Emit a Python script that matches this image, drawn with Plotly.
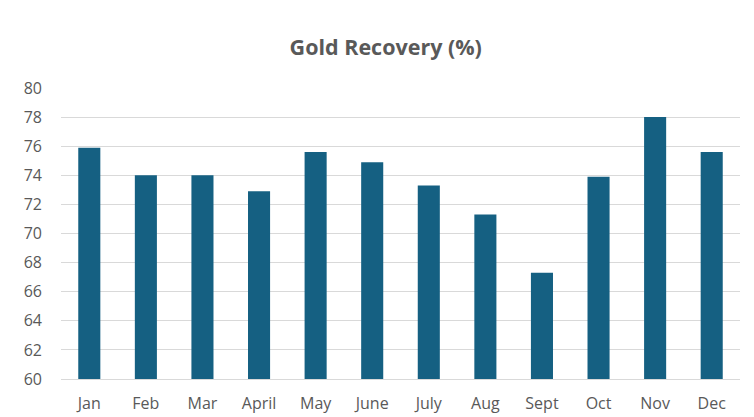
import plotly.graph_objects as go

months = ["Jan", "Feb", "Mar", "April", "May", "June", "July", "Aug", "Sept", "Oct", "Nov", "Dec"]
recovery = [75.9, 74.0, 74.0, 72.9, 75.6, 74.9, 73.3, 71.3, 67.3, 73.9, 78.0, 75.6]
y_ticks = [60, 62, 64, 66, 68, 70, 72, 74, 76, 78, 80]

FONT = "Open Sans, sans-serif"
fig = go.Figure(go.Bar(x=months, y=recovery, marker=dict(color="#156082", line=dict(width=0))))

# page body adds an 8px offset; margins compensate so the plot lands where the reference has it
fig.update_layout(
    width=754, height=417,
    margin=dict(l=53, r=22, t=80, b=46),
    paper_bgcolor="white", plot_bgcolor="white",
    bargap=0.61,
    showlegend=False,
    title=dict(text="<b>Gold Recovery (%)</b>", x=0.501, xanchor="center", y=1 - 39 / 417, yanchor="middle",
               font=dict(family=FONT, size=21.5, color="#595959")),
    font=dict(family=FONT, size=16, color="#595959"),
)
fig.update_xaxes(showgrid=False, showline=True, linecolor="#d9d9d9", linewidth=1, ticks="",
                 ticklabelstandoff=10, tickfont=dict(size=16, color="#595959"))
fig.update_yaxes(range=[60, 80], tickvals=y_ticks, showgrid=True, gridcolor="#d9d9d9", gridwidth=1,
                 zeroline=False, showline=False, ticks="", ticklabelstandoff=18,
                 tickfont=dict(size=16, color="#595959"))

fig.write_html("out.html")
